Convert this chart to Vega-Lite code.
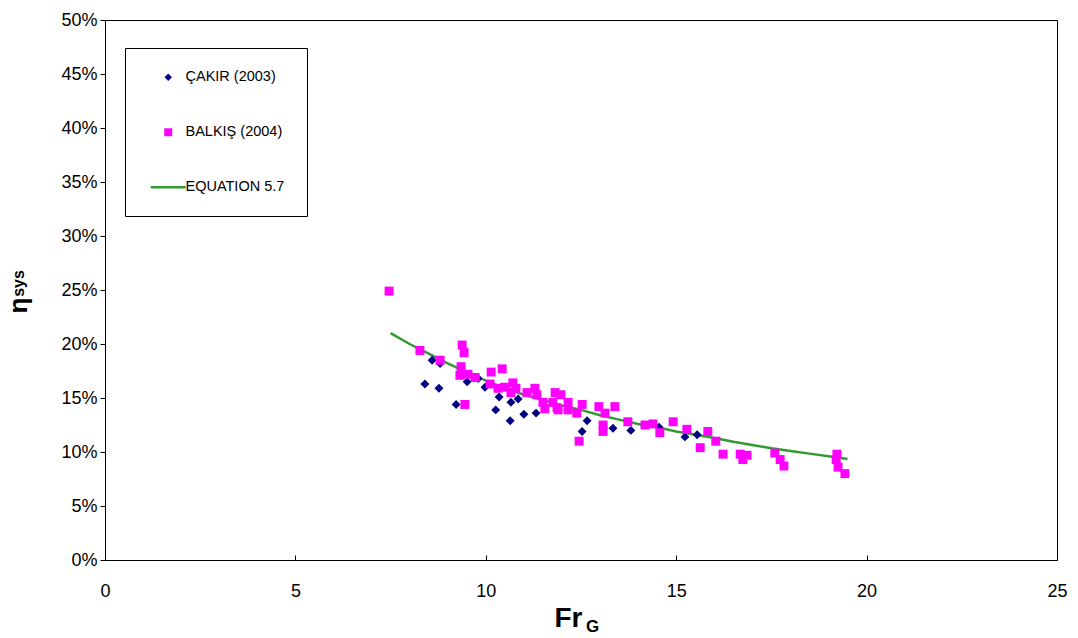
{
  "$schema": "https://vega.github.io/schema/vega-lite/v6.json",
  "width": 952,
  "height": 540,
  "autosize": {"type": "none"},
  "padding": {"left": 105, "top": 20, "right": 21, "bottom": 78},
  "background": "white",
  "config": {
    "font": "Liberation Sans",
    "view": {"stroke": "black", "strokeWidth": 1}
  },
  "data": {
    "values": [
      {"series": "ÇAKIR (2003)", "Fr": 8.40, "eta": 0.163},
      {"series": "ÇAKIR (2003)", "Fr": 8.77, "eta": 0.159},
      {"series": "ÇAKIR (2003)", "Fr": 8.59, "eta": 0.185},
      {"series": "ÇAKIR (2003)", "Fr": 8.80, "eta": 0.182},
      {"series": "ÇAKIR (2003)", "Fr": 9.22, "eta": 0.144},
      {"series": "ÇAKIR (2003)", "Fr": 9.51, "eta": 0.165},
      {"series": "ÇAKIR (2003)", "Fr": 9.80, "eta": 0.168},
      {"series": "ÇAKIR (2003)", "Fr": 9.98, "eta": 0.160},
      {"series": "ÇAKIR (2003)", "Fr": 10.26, "eta": 0.139},
      {"series": "ÇAKIR (2003)", "Fr": 10.35, "eta": 0.151},
      {"series": "ÇAKIR (2003)", "Fr": 10.66, "eta": 0.146},
      {"series": "ÇAKIR (2003)", "Fr": 10.85, "eta": 0.149},
      {"series": "ÇAKIR (2003)", "Fr": 10.64, "eta": 0.129},
      {"series": "ÇAKIR (2003)", "Fr": 11.00, "eta": 0.135},
      {"series": "ÇAKIR (2003)", "Fr": 11.32, "eta": 0.136},
      {"series": "ÇAKIR (2003)", "Fr": 12.53, "eta": 0.119},
      {"series": "ÇAKIR (2003)", "Fr": 12.66, "eta": 0.129},
      {"series": "ÇAKIR (2003)", "Fr": 13.34, "eta": 0.122},
      {"series": "ÇAKIR (2003)", "Fr": 13.81, "eta": 0.120},
      {"series": "ÇAKIR (2003)", "Fr": 14.55, "eta": 0.123},
      {"series": "ÇAKIR (2003)", "Fr": 15.23, "eta": 0.114},
      {"series": "ÇAKIR (2003)", "Fr": 15.55, "eta": 0.116},
      {"series": "BALKIŞ (2004)", "Fr": 7.46, "eta": 0.249},
      {"series": "BALKIŞ (2004)", "Fr": 8.27, "eta": 0.194},
      {"series": "BALKIŞ (2004)", "Fr": 8.80, "eta": 0.185},
      {"series": "BALKIŞ (2004)", "Fr": 9.38, "eta": 0.199},
      {"series": "BALKIŞ (2004)", "Fr": 9.43, "eta": 0.192},
      {"series": "BALKIŞ (2004)", "Fr": 9.35, "eta": 0.179},
      {"series": "BALKIŞ (2004)", "Fr": 9.32, "eta": 0.171},
      {"series": "BALKIŞ (2004)", "Fr": 9.53, "eta": 0.172},
      {"series": "BALKIŞ (2004)", "Fr": 9.72, "eta": 0.169},
      {"series": "BALKIŞ (2004)", "Fr": 9.45, "eta": 0.144},
      {"series": "BALKIŞ (2004)", "Fr": 10.14, "eta": 0.174},
      {"series": "BALKIŞ (2004)", "Fr": 10.43, "eta": 0.177},
      {"series": "BALKIŞ (2004)", "Fr": 10.11, "eta": 0.163},
      {"series": "BALKIŞ (2004)", "Fr": 10.32, "eta": 0.159},
      {"series": "BALKIŞ (2004)", "Fr": 10.50, "eta": 0.160},
      {"series": "BALKIŞ (2004)", "Fr": 10.71, "eta": 0.164},
      {"series": "BALKIŞ (2004)", "Fr": 10.79, "eta": 0.159},
      {"series": "BALKIŞ (2004)", "Fr": 10.66, "eta": 0.155},
      {"series": "BALKIŞ (2004)", "Fr": 11.08, "eta": 0.155},
      {"series": "BALKIŞ (2004)", "Fr": 11.29, "eta": 0.159},
      {"series": "BALKIŞ (2004)", "Fr": 11.34, "eta": 0.153},
      {"series": "BALKIŞ (2004)", "Fr": 11.50, "eta": 0.146},
      {"series": "BALKIŞ (2004)", "Fr": 11.55, "eta": 0.140},
      {"series": "BALKIŞ (2004)", "Fr": 11.82, "eta": 0.155},
      {"series": "BALKIŞ (2004)", "Fr": 11.87, "eta": 0.141},
      {"series": "BALKIŞ (2004)", "Fr": 11.97, "eta": 0.153},
      {"series": "BALKIŞ (2004)", "Fr": 11.76, "eta": 0.146},
      {"series": "BALKIŞ (2004)", "Fr": 11.90, "eta": 0.139},
      {"series": "BALKIŞ (2004)", "Fr": 12.16, "eta": 0.146},
      {"series": "BALKIŞ (2004)", "Fr": 12.16, "eta": 0.139},
      {"series": "BALKIŞ (2004)", "Fr": 12.39, "eta": 0.136},
      {"series": "BALKIŞ (2004)", "Fr": 12.53, "eta": 0.144},
      {"series": "BALKIŞ (2004)", "Fr": 12.45, "eta": 0.110},
      {"series": "BALKIŞ (2004)", "Fr": 12.97, "eta": 0.142},
      {"series": "BALKIŞ (2004)", "Fr": 13.13, "eta": 0.136},
      {"series": "BALKIŞ (2004)", "Fr": 13.39, "eta": 0.142},
      {"series": "BALKIŞ (2004)", "Fr": 13.08, "eta": 0.125},
      {"series": "BALKIŞ (2004)", "Fr": 13.08, "eta": 0.119},
      {"series": "BALKIŞ (2004)", "Fr": 13.73, "eta": 0.128},
      {"series": "BALKIŞ (2004)", "Fr": 14.18, "eta": 0.125},
      {"series": "BALKIŞ (2004)", "Fr": 14.39, "eta": 0.126},
      {"series": "BALKIŞ (2004)", "Fr": 14.57, "eta": 0.118},
      {"series": "BALKIŞ (2004)", "Fr": 14.92, "eta": 0.128},
      {"series": "BALKIŞ (2004)", "Fr": 15.28, "eta": 0.121},
      {"series": "BALKIŞ (2004)", "Fr": 15.63, "eta": 0.104},
      {"series": "BALKIŞ (2004)", "Fr": 15.83, "eta": 0.119},
      {"series": "BALKIŞ (2004)", "Fr": 16.04, "eta": 0.110},
      {"series": "BALKIŞ (2004)", "Fr": 16.23, "eta": 0.098},
      {"series": "BALKIŞ (2004)", "Fr": 16.68, "eta": 0.098},
      {"series": "BALKIŞ (2004)", "Fr": 16.86, "eta": 0.097},
      {"series": "BALKIŞ (2004)", "Fr": 16.75, "eta": 0.093},
      {"series": "BALKIŞ (2004)", "Fr": 17.59, "eta": 0.099},
      {"series": "BALKIŞ (2004)", "Fr": 17.73, "eta": 0.093},
      {"series": "BALKIŞ (2004)", "Fr": 17.83, "eta": 0.087},
      {"series": "BALKIŞ (2004)", "Fr": 19.22, "eta": 0.098},
      {"series": "BALKIŞ (2004)", "Fr": 19.20, "eta": 0.093},
      {"series": "BALKIŞ (2004)", "Fr": 19.25, "eta": 0.086},
      {"series": "BALKIŞ (2004)", "Fr": 19.43, "eta": 0.080},
      {"series": "EQUATION 5.7", "Fr": 7.5, "eta": 0.210},
      {"series": "EQUATION 5.7", "Fr": 8.0, "eta": 0.200},
      {"series": "EQUATION 5.7", "Fr": 8.5, "eta": 0.191},
      {"series": "EQUATION 5.7", "Fr": 9.0, "eta": 0.182},
      {"series": "EQUATION 5.7", "Fr": 9.5, "eta": 0.174},
      {"series": "EQUATION 5.7", "Fr": 10.0, "eta": 0.166},
      {"series": "EQUATION 5.7", "Fr": 10.5, "eta": 0.159},
      {"series": "EQUATION 5.7", "Fr": 11.0, "eta": 0.153},
      {"series": "EQUATION 5.7", "Fr": 11.5, "eta": 0.148},
      {"series": "EQUATION 5.7", "Fr": 12.0, "eta": 0.143},
      {"series": "EQUATION 5.7", "Fr": 12.5, "eta": 0.139},
      {"series": "EQUATION 5.7", "Fr": 13.0, "eta": 0.134},
      {"series": "EQUATION 5.7", "Fr": 13.5, "eta": 0.130},
      {"series": "EQUATION 5.7", "Fr": 14.0, "eta": 0.126},
      {"series": "EQUATION 5.7", "Fr": 14.5, "eta": 0.123},
      {"series": "EQUATION 5.7", "Fr": 15.0, "eta": 0.119},
      {"series": "EQUATION 5.7", "Fr": 15.5, "eta": 0.116},
      {"series": "EQUATION 5.7", "Fr": 16.0, "eta": 0.113},
      {"series": "EQUATION 5.7", "Fr": 16.5, "eta": 0.1095},
      {"series": "EQUATION 5.7", "Fr": 17.0, "eta": 0.1065},
      {"series": "EQUATION 5.7", "Fr": 17.5, "eta": 0.1035},
      {"series": "EQUATION 5.7", "Fr": 18.0, "eta": 0.101},
      {"series": "EQUATION 5.7", "Fr": 18.5, "eta": 0.0985},
      {"series": "EQUATION 5.7", "Fr": 19.0, "eta": 0.096},
      {"series": "EQUATION 5.7", "Fr": 19.5, "eta": 0.0935}
    ]
  },
  "layer": [
    {
      "transform": [{"filter": "datum.series === 'EQUATION 5.7'"}],
      "mark": {"type": "line", "color": "#339933", "strokeWidth": 2.5},
      "encoding": {
        "x": {
          "field": "Fr", "type": "quantitative",
          "scale": {"domain": [0, 25], "nice": false, "zero": false},
          "axis": {
            "orient": "bottom",
            "title": "Fr", "values": [0, 5, 10, 15, 20, 25], "format": "d", "labelFlush": false,
            "grid": false, "domainColor": "black", "tickColor": "black", "tickSize": -5,
            "labelFont": "Liberation Sans", "labelFontSize": 18, "labelColor": "black", "labelPadding": 27,
            "titleFont": "Liberation Sans", "titleFontSize": 28, "titleFontWeight": "bold", "titleColor": "black",
            "titleX": 463, "titleY": 58, "titleAlign": "center", "titleBaseline": "middle"
          }
        },
        "y": {
          "field": "eta", "type": "quantitative",
          "scale": {"domain": [0, 0.5], "nice": false},
          "axis": {
            "orient": "left",
            "title": "η", "values": [0, 0.05, 0.1, 0.15, 0.2, 0.25, 0.3, 0.35, 0.4, 0.45, 0.5], "format": ".0%", "labelFlush": false,
            "grid": false, "domainColor": "black", "tickColor": "black", "tickSize": 5,
            "labelFont": "Liberation Sans", "labelFontSize": 18, "labelColor": "black", "labelPadding": 3,
            "titleFont": "Liberation Sans", "titleFontSize": 26, "titleFontWeight": "bold", "titleColor": "black",
            "titleX": -87, "titleY": 285, "titleAngle": -90, "titleAlign": "center", "titleBaseline": "middle"
          }
        }
      }
    },
    {
      "transform": [{"filter": "datum.series !== 'EQUATION 5.7'"}],
      "mark": {"type": "point", "filled": true, "opacity": 1, "size": 80},
      "encoding": {
        "x": {
          "field": "Fr", "type": "quantitative",
          "scale": {"domain": [0, 25], "nice": false, "zero": false},
          "axis": {
            "orient": "bottom",
            "title": "G", "labels": false, "ticks": false, "domain": false, "grid": false,
            "titleFont": "Liberation Sans", "titleFontSize": 17, "titleFontWeight": "bold", "titleColor": "black",
            "titleX": 487, "titleY": 66, "titleAlign": "center", "titleBaseline": "middle"
          }
        },
        "y": {
          "field": "eta", "type": "quantitative",
          "scale": {"domain": [0, 0.5], "nice": false},
          "axis": {
            "orient": "left",
            "title": "sys", "labels": false, "ticks": false, "domain": false, "grid": false,
            "titleFont": "Liberation Sans", "titleFontSize": 16, "titleFontWeight": "bold", "titleColor": "black",
            "titleX": -87, "titleY": 263, "titleAngle": -90, "titleAlign": "center", "titleBaseline": "middle"
          }
        },
        "color": {
          "field": "series", "type": "nominal",
          "scale": {"domain": ["ÇAKIR (2003)", "BALKIŞ (2004)", "EQUATION 5.7"], "range": ["#000080", "#FF00FF", "#339933"]},
          "legend": {
            "title": null, "orient": "none", "legendX": 20, "legendY": 28,
            "padding": 22, "rowPadding": 40, "strokeColor": "black", "fillColor": "white",
            "labelFont": "Liberation Sans", "labelFontSize": 14.5, "labelColor": "black", "labelOffset": 10,
            "symbolSize": 1225, "symbolOffset": 14, "symbolOpacity": 1,
            "encode": {
              "symbols": {
                "update": {
                  "size": {"signal": "datum.value === 'EQUATION 5.7' ? 1225 : (datum.value === 'BALKIŞ (2004)' ? 64 : 55)"},
                  "stroke": {"signal": "datum.value === 'EQUATION 5.7' ? '#339933' : 'transparent'"},
                  "strokeWidth": {"signal": "datum.value === 'EQUATION 5.7' ? 2.5 : 0"}
                }
              }
            }
          }
        },
        "shape": {
          "field": "series", "type": "nominal",
          "scale": {"domain": ["ÇAKIR (2003)", "BALKIŞ (2004)", "EQUATION 5.7"], "range": ["diamond", "square", "stroke"]},
          "legend": {
            "title": null, "orient": "none", "legendX": 20, "legendY": 28,
            "padding": 22, "rowPadding": 40, "strokeColor": "black", "fillColor": "white",
            "labelFont": "Liberation Sans", "labelFontSize": 14.5, "labelColor": "black", "labelOffset": 10,
            "symbolSize": 1225, "symbolOffset": 14, "symbolOpacity": 1,
            "encode": {
              "symbols": {
                "update": {
                  "size": {"signal": "datum.value === 'EQUATION 5.7' ? 1225 : (datum.value === 'BALKIŞ (2004)' ? 64 : 55)"},
                  "stroke": {"signal": "datum.value === 'EQUATION 5.7' ? '#339933' : 'transparent'"},
                  "strokeWidth": {"signal": "datum.value === 'EQUATION 5.7' ? 2.5 : 0"}
                }
              }
            }
          }
        }
      }
    }
  ],
  "resolve": {"axis": {"x": "independent", "y": "independent"}}
}
